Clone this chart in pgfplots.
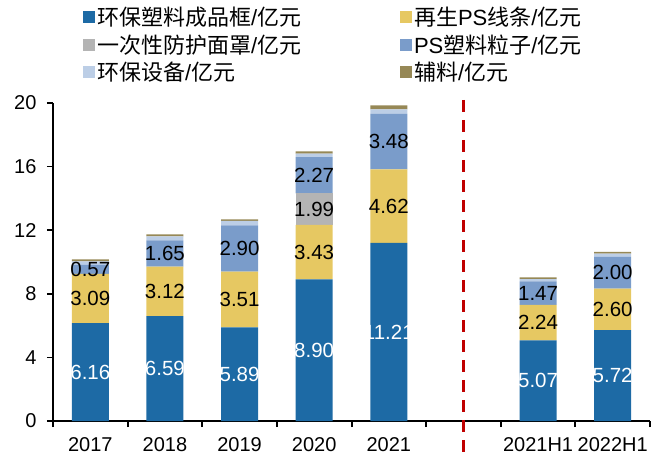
\documentclass[border=0pt]{standalone}
\usepackage{fontspec}
\setmainfont{Liberation Sans}
\newfontfamily\cjk{Noto Sans CJK SC}
\usepackage{pgfplots}
\pgfplotsset{compat=1.18}
\definecolor{cFrame}{RGB}{29,106,165}
\definecolor{cLine}{RGB}{230,200,98}
\definecolor{cMask}{RGB}{180,180,180}
\definecolor{cGran}{RGB}{122,156,202}
\definecolor{cEquip}{RGB}{188,206,230}
\definecolor{cAux}{RGB}{150,136,86}
\definecolor{cRed}{RGB}{192,0,0}
\pgfplotsset{sq/.style={legend image code/.code={\fill[##1] (0pt,-6pt) rectangle (12pt,6pt);}}}
\newcommand{\lab}[4]{\node[inner sep=0pt, text=#4, font=\fontsize{20.5}{24}\selectfont] at (axis cs:#1,#2) {#3};}
\begin{document}
\begin{tikzpicture}
\useasboundingbox (-53pt,-37pt) rectangle (598pt,421pt);
\begin{axis}[
  at={(0,0)}, anchor=south west,
  width=597pt, height=318pt, scale only axis,
  ybar stacked, bar width=37pt,
  xmin=-0.5, xmax=7.5, ymin=0, ymax=20,
  xtick={0,1,2,3,4,6,7},
  xticklabels={2017,2018,2019,2020,2021,2021H1,2022H1},
  minor xtick={-0.5,0.5,1.5,2.5,3.5,4.5,5.5,6.5,7.5},
  ytick={0,4,...,20},
  axis x line*=bottom, axis y line*=left,
  axis line style={black, line width=2.2pt, -},
  tick align=outside,
  major x tick style={draw=none},
  minor x tick style={black, line width=2pt},
  minor tick length=6pt,
  major y tick style={black, line width=1.8pt},
  major tick length=6pt,
  tick label style={font=\fontsize{20}{24}\selectfont},
  /pgf/number format/assume math mode=true,
  xticklabel style={yshift=-7pt},
  yticklabel style={xshift=-7pt},
  clip=false,
  legend columns=2,
  legend cell align=left,
  legend style={at={(axis description cs:0.045,1.315)}, anchor=north west,
    draw=none, fill=none, font=\fontsize{22}{26}\selectfont, row sep=3.5pt},
  after end axis/.code={
    % value labels, centred in each segment
    \lab{0}{3.08}{6.16}{white} \lab{0}{7.705}{3.09}{black} \lab{0}{9.535}{0.57}{black}
    \lab{1}{3.295}{6.59}{white} \lab{1}{8.15}{3.12}{black} \lab{1}{10.535}{1.65}{black}
    \lab{2}{2.945}{5.89}{white} \lab{2}{7.645}{3.51}{black} \lab{2}{10.85}{2.90}{black}
    \lab{3}{4.45}{8.90}{white} \lab{3}{10.615}{3.43}{black} \lab{3}{13.325}{1.99}{black} \lab{3}{15.455}{2.27}{black}
    \lab{4}{5.605}{11.21}{white} \lab{4}{13.52}{4.62}{black} \lab{4}{17.57}{3.48}{black}
    \lab{6}{2.535}{5.07}{white} \lab{6}{6.19}{2.24}{black} \lab{6}{8.045}{1.47}{black}
    \lab{7}{2.86}{5.72}{white} \lab{7}{7.02}{2.60}{black} \lab{7}{9.32}{2.00}{black}
    \draw[cRed, line width=2.5pt, dash pattern=on 12pt off 8pt] (axis cs:5,20.2) -- ([yshift=-34pt]axis cs:5,0);
  },
]
% 环保塑料成品框
\addplot[fill=cFrame, draw=none, sq] coordinates {(0,6.16) (1,6.59) (2,5.89) (3,8.90) (4,11.21) (6,5.07) (7,5.72)};
\addlegendentry{\makebox[301pt][l]{{\cjk 环保塑料成品框}/{\cjk 亿元}}}
% 再生PS线条
\addplot[fill=cLine, draw=none, sq] coordinates {(0,3.09) (1,3.12) (2,3.51) (3,3.43) (4,4.62) (6,2.24) (7,2.60)};
\addlegendentry{{\cjk 再生}PS{\cjk 线条}/{\cjk 亿元}}
% 一次性防护面罩
\addplot[fill=cMask, draw=none, sq] coordinates {(0,0) (1,0) (2,0) (3,1.99) (4,0) (6,0) (7,0)};
\addlegendentry{\makebox[301pt][l]{{\cjk 一次性防护面罩}/{\cjk 亿元}}}
% PS塑料粒子
\addplot[fill=cGran, draw=none, sq] coordinates {(0,0.57) (1,1.65) (2,2.90) (3,2.27) (4,3.48) (6,1.47) (7,2.00)};
\addlegendentry{PS{\cjk 塑料粒子}/{\cjk 亿元}}
% 环保设备
\addplot[fill=cEquip, draw=none, sq] coordinates {(0,0.22) (1,0.25) (2,0.28) (3,0.22) (4,0.29) (6,0.15) (7,0.20)};
\addlegendentry{\makebox[301pt][l]{{\cjk 环保设备}/{\cjk 亿元}}}
% 辅料
\addplot[fill=cAux, draw=none, sq] coordinates {(0,0.13) (1,0.12) (2,0.10) (3,0.15) (4,0.25) (6,0.10) (7,0.11)};
\addlegendentry{{\cjk 辅料}/{\cjk 亿元}}
\end{axis}
\end{tikzpicture}
\end{document}
